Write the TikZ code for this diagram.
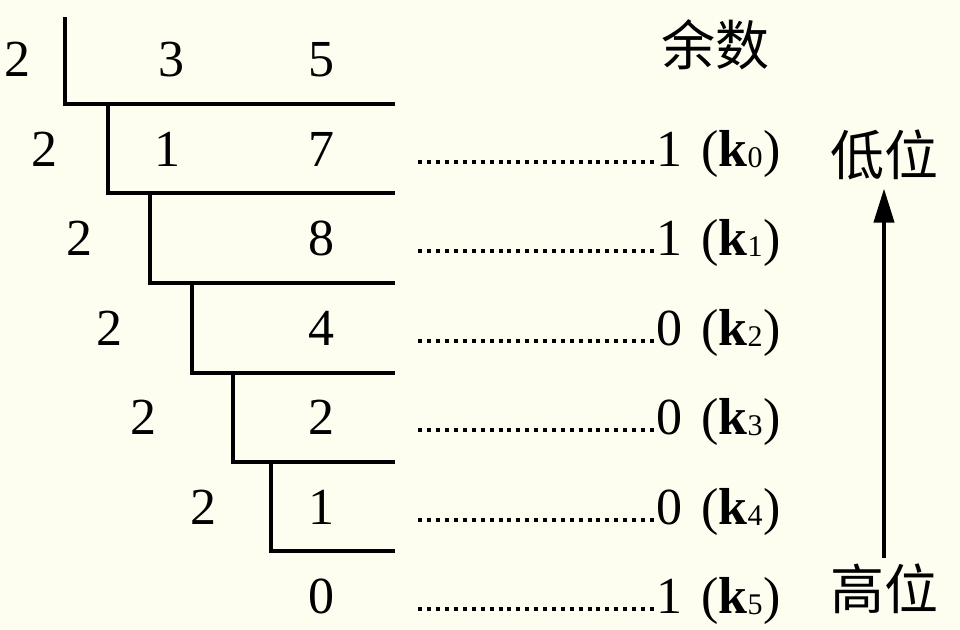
\documentclass[tikz,border=0pt]{standalone}
\usepackage{fontspec}
\setmainfont{Liberation Serif}
\newfontfamily\cjk{Noto Sans CJK SC}
\usetikzlibrary{arrows.meta}
\definecolor{paper}{RGB}{254,254,240}
\newcommand{\remk}[1]{\hspace{3pt}(\textbf{k}\raisebox{-0.5pt}{\fontsize{15pt}{15pt}\selectfont #1}\hspace{0.5pt})}
\tikzset{
    num/.style={font=\fontsize{26pt}{26pt}\selectfont, inner sep=0pt, text height=0.68em, text depth=0.25em},
    rem/.style={num, anchor=west},
    cn/.style={font=\cjk\fontsize{27pt}{27pt}\selectfont, inner sep=0pt},
    bar/.style={line width=2pt},
    dotline/.style={line width=2pt, dash pattern=on 2pt off 2.45pt, shorten <=42pt}
}
\begin{document}
\begin{tikzpicture}[x=0.5pt, y=-0.5pt]
        \fill[paper] (0,0) rectangle (960,629);
        \useasboundingbox (0,0) rectangle (960,629);

        %divisors
        \node[num] (div0) at (17,72) {2};
        \node[num] (div1) at (45,162) {2};
        \node[num] (div2) at (79,251) {2};
        \node[num] (div3) at (110,341) {2};
        \node[num] (div4) at (143,430) {2};
        \node[num] (div5) at (203,520) {2};

        %quotients
        \node[num] (ten0) at (171,72) {3};
        \node[num] (q0) at (321,72) {5};
        \node[num] (ten1) at (167,162) {1};
        \node[num] (q1) at (321,162) {7};
        \node[num] (q2) at (321,251) {8};
        \node[num] (q3) at (321,341) {4};
        \node[num] (q4) at (321,430) {2};
        \node[num] (q5) at (321,520) {1};
        \node[num] (q6) at (321,609) {0};

        %division brackets
        \draw[bar] (65,17) -- (65,104) -- (395,104);
        \draw[bar] (108,104) -- (108,193) -- (395,193);
        \draw[bar] (150,193) -- (150,283) -- (395,283);
        \draw[bar] (192,283) -- (192,373) -- (395,373);
        \draw[bar] (233,373) -- (233,462) -- (395,462);
        \draw[bar] (271,462) -- (271,551) -- (395,551);

        %remainders
        \node[cn] (head) at (715,45) {余数};
        \node[rem] (r0) at (656,162) {1\ \remk{0}};
        \node[rem] (r1) at (656,251) {1\ \remk{1}};
        \node[rem] (r2) at (656,341) {0\ \remk{2}};
        \node[rem] (r3) at (656,430) {0\ \remk{3}};
        \node[rem] (r4) at (656,520) {0\ \remk{4}};
        \node[rem] (r5) at (656,609) {1\ \remk{5}};

        %dotted lines
        \draw[dotline] (q1.east) -- (r0.west);
        \draw[dotline] (q2.east) -- (r1.west);
        \draw[dotline] (q3.east) -- (r2.west);
        \draw[dotline] (q4.east) -- (r3.west);
        \draw[dotline] (q5.east) -- (r4.west);
        \draw[dotline] (q6.east) -- (r5.west);

        %low and high bits
        \node[cn] (lo) at (884,155) {低位};
        \node[cn] (hi) at (884,589) {高位};
        \draw[bar, -{Triangle[length=17pt,width=10pt]}, shorten <=3pt, shorten >=4pt] (hi.north) -- (lo.south);
    \end{tikzpicture}
\end{document}
